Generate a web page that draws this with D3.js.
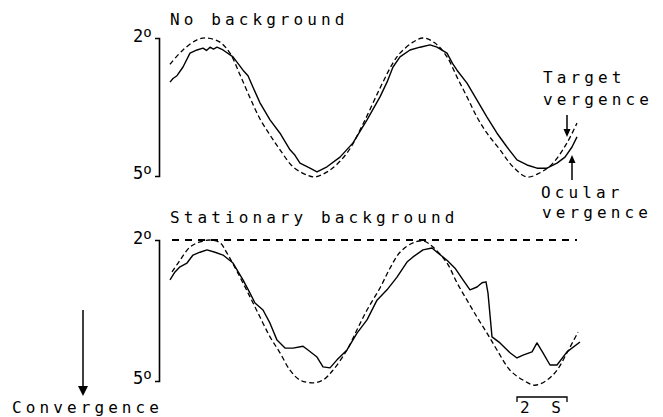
<!DOCTYPE html>
<html><head><meta charset="utf-8">
<script src="https://cdn.jsdelivr.net/npm/d3@7"></script>
<style>
body{margin:0;background:#fff;}
text{font-family:"DejaVu Sans Mono",monospace;fill:#000;}
</style></head>
<body><svg id="c" width="663" height="417"></svg>
<script>
// time in seconds, vergence in degrees
const topTargetT = [0,0.52,1.08,1.48,2.00,2.40,2.80,3.20,3.60,4.00,4.40,4.92,5.48,5.80,6.40,7.08,7.72,8.40,8.92,9.20,9.72,10.12,10.60,11.08,11.48,11.88,12.28,12.68,13.20,13.72,14.28,14.80,15.32,15.88,16.28];
const topTargetV = [2.57,2.26,2.04,2.00,2.09,2.33,2.80,3.30,3.76,4.11,4.43,4.80,4.98,5.02,4.87,4.50,3.87,3.09,2.54,2.33,2.09,2.00,2.11,2.41,2.85,3.28,3.72,4.07,4.43,4.80,5.02,4.93,4.72,4.28,3.85];

const topOcularT = [0,0.12,0.28,0.52,0.80,1.08,1.32,1.46,1.60,1.74,1.88,2.12,2.52,2.92,3.12,3.32,3.60,4.00,4.40,4.80,5.00,5.20,5.60,5.88,6.28,6.80,7.32,7.88,8.40,8.68,8.92,9.20,9.60,10.00,10.40,10.68,11.08,11.30,11.48,11.88,12.28,12.68,13.08,13.48,13.88,14.28,14.68,15.08,15.48,15.80,16.08,16.28];
const topOcularV = [2.96,2.88,2.82,2.63,2.33,2.26,2.22,2.27,2.20,2.24,2.20,2.26,2.41,2.70,2.82,3.07,3.41,3.78,4.07,4.43,4.55,4.72,4.83,4.91,4.80,4.59,4.28,3.78,3.28,2.96,2.63,2.41,2.26,2.20,2.15,2.20,2.33,2.55,2.70,2.98,3.35,3.72,4.07,4.37,4.65,4.76,4.83,4.83,4.72,4.59,4.37,4.15];

const botTargetT = [0.08,0.40,0.80,1.20,1.60,2.00,2.28,2.80,3.20,3.60,4.00,4.40,4.80,5.20,5.72,6.12,6.52,7.08,7.48,7.88,8.40,8.80,9.20,9.72,10.12,10.52,11.08,11.48,11.88,12.28,12.68,13.08,13.60,14.12,14.60,15.08,15.48,15.88,16.32];
const botTargetV = [2.68,2.43,2.15,2.04,2.00,2.06,2.28,2.79,3.21,3.64,4.06,4.40,4.77,4.98,5.04,4.98,4.77,4.34,3.91,3.49,3.02,2.60,2.26,2.06,2.02,2.15,2.49,2.91,3.28,3.64,3.98,4.34,4.77,4.98,5.09,4.98,4.77,4.40,3.96];

const botOcularT = [0,0.20,0.40,0.68,0.92,1.20,1.48,1.80,2.12,2.52,2.92,3.20,3.40,3.72,4.00,4.28,4.60,4.92,5.32,5.52,5.88,6.12,6.40,6.68,7.08,7.48,7.88,8.28,8.68,9.08,9.48,9.72,10.12,10.48,10.68,11.08,11.40,11.72,12.00,12.28,12.48,12.64,12.72,12.88,13.20,13.60,13.88,14.12,14.48,14.68,14.92,15.20,15.48,15.88,16.40];
const botOcularV = [2.85,2.68,2.57,2.49,2.32,2.26,2.21,2.26,2.32,2.49,2.85,3.13,3.34,3.49,3.77,4.13,4.30,4.30,4.26,4.34,4.49,4.70,4.72,4.55,4.34,3.98,3.70,3.28,3.06,2.79,2.47,2.36,2.21,2.17,2.26,2.43,2.60,2.85,3.06,3.00,2.91,2.89,3.13,4.06,4.19,4.40,4.51,4.45,4.38,4.19,4.40,4.66,4.66,4.38,4.17];

const backgroundLevel = 2;   // stationary background at 2 deg
const bgStartT = 0.08, bgEndT = 16.28;
const yTicks = [2, 5];
const scaleBarStartT = 13.88, scaleBarLen = 2;

const svg = d3.select("#c");
const x = d3.scaleLinear().domain([0, 16.32]).range([170, 578]);
const yTop = d3.scaleLinear().domain([2, 5]).range([38, 176]);
const yBot = d3.scaleLinear().domain([2, 5]).range([240, 381]);

function draw(ts, vs, y, dashed) {
  const pts = ts.map((t, i) => [t, vs[i]]);
  const line = d3.line().x(d => x(d[0])).y(d => y(d[1]))
    .curve(dashed ? d3.curveCatmullRom : d3.curveLinear);
  svg.append("path").attr("d", line(pts)).attr("fill", "none")
    .attr("stroke", "#000").attr("stroke-width", dashed ? 1.3 : 1.4)
    .attr("stroke-dasharray", dashed ? "5,3" : null)
    .attr("stroke-linejoin", "round");
}
draw(topTargetT, topTargetV, yTop, true);
draw(topOcularT, topOcularV, yTop, false);
draw(botTargetT, botTargetV, yBot, true);
draw(botOcularT, botOcularV, yBot, false);

// background line
svg.append("line").attr("x1", x(bgStartT)).attr("x2", x(bgEndT))
  .attr("y1", yBot(backgroundLevel)).attr("y2", yBot(backgroundLevel))
  .attr("stroke", "#000").attr("stroke-width", 1.3).attr("stroke-dasharray", "7,6")
  .attr("shape-rendering", "crispEdges");

// axes (bracket)
[yTop, yBot].forEach(y => {
  const g = svg.append("g").attr("transform", "translate(159,0)")
    .call(d3.axisLeft(y).tickValues([]).tickSizeOuter(4));
  g.select(".domain").attr("stroke", "#000").attr("stroke-width", 1.6);
  yTicks.forEach(v => {
    const t = svg.append("text").attr("x", 133).attr("y", y(v) + (v === 2 ? 4 : 3))
      .attr("font-size", 17);
    t.append("tspan").text(String(v));
    t.append("tspan").attr("dy", -5).attr("font-size", 14).text("o");
  });
});

const txt = (s, xx, yy, ls) => svg.append("text").attr("x", xx).attr("y", yy)
  .attr("font-size", 16).attr("letter-spacing", ls).text(s);
txt("No background", 170, 25, 4.1);
txt("Stationary background", 170, 223, 4.1);
txt("Target", 543, 83, 4.1);
txt("vergence", 543, 105, 4.1);
txt("Ocular", 541, 198, 4.1);
txt("vergence", 542, 218, 4.1);
txt("Convergence", 12, 413, 4.1);
txt("2 S", 520, 413, 6);

function arrow(xx, y1, y2, hw, hl) {
  const dir = Math.sign(y2 - y1);
  svg.append("line").attr("x1", xx).attr("x2", xx).attr("y1", y1).attr("y2", y2 - dir * hl)
    .attr("stroke", "#000").attr("stroke-width", 1.5);
  svg.append("path").attr("d", `M${xx - hw},${y2 - dir * hl}L${xx + hw},${y2 - dir * hl}L${xx},${y2}Z`)
    .attr("fill", "#000");
}
arrow(83, 310, 396, 5, 10);
arrow(567, 115, 137, 3.5, 8);
arrow(572, 180, 155, 3.5, 8);

// 2 s scale bar
const sb0 = x(scaleBarStartT), sb1 = x(scaleBarStartT + scaleBarLen);
svg.append("path").attr("d", `M${sb0},402V397H${sb1}V402`).attr("fill", "none")
  .attr("stroke", "#000").attr("stroke-width", 1.3);
</script></body></html>
